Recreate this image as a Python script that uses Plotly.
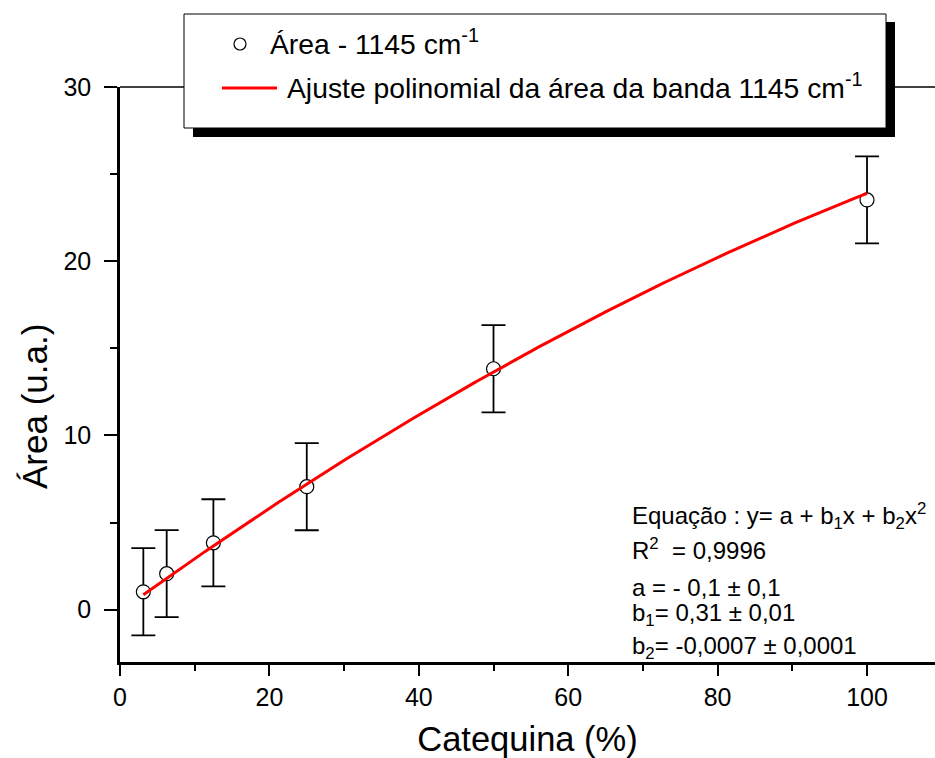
import numpy as np
import plotly.graph_objects as go

# Catechin content (%) and integrated area of the 1145 cm-1 band
catequina = [3.125, 6.25, 12.5, 25, 50, 100]
area = [1.03, 2.07, 3.84, 7.06, 13.83, 23.52]
erro = [2.5, 2.5, 2.5, 2.5, 2.5, 2.5]

# Second-order polynomial fit coefficients: y = a + b1*x + b2*x^2
a, b1, b2 = -0.1, 0.31, -0.0007

x_ticks = [0, 20, 40, 60, 80, 100]
y_ticks = [0, 10, 20, 30]

W, H = 935, 758
ML, MR, MT, MB = 120, 0, 87, 96
PW, PH = W - ML - MR, H - MT - MB
FONT = "Liberation Sans, Arial, sans-serif"


def px(xpix):
    return (xpix - ML) / PW


def py(ypix):
    return (H - MB - ypix) / PH


x_fit = np.linspace(catequina[0], catequina[-1], 300)
y_fit = a + b1 * x_fit + b2 * x_fit ** 2

fig = go.Figure()

fig.add_trace(go.Scatter(
    x=catequina, y=area, mode="markers",
    marker=dict(symbol="circle", size=14, color="white",
                line=dict(color="black", width=1.2)),
    error_y=dict(type="data", array=erro, visible=True,
                 color="black", thickness=1.8, width=12),
    showlegend=False,
))

fig.add_trace(go.Scatter(
    x=x_fit, y=y_fit, mode="lines",
    line=dict(color="#ff0000", width=3),
    showlegend=False,
))

axis_common = dict(
    showgrid=False, zeroline=False, showline=True,
    linecolor="black", linewidth=2.5,
    ticks="outside", tickcolor="black", tickwidth=1.8,
    tickfont=dict(family=FONT, size=25, color="black"),
)

fig.update_xaxes(
    range=[0, 109.1], tickvals=x_ticks, ticklen=11,
    minor=dict(dtick=10, ticklen=6, tickwidth=1.8, tickcolor="black", ticks="outside"),
    title=dict(text="Catequina (%)", font=dict(family=FONT, size=34.5, color="black"), standoff=22),
    ticklabelstandoff=0,
    **axis_common,
)
fig.update_yaxes(
    range=[-3, 30], tickvals=y_ticks, ticklen=13,
    minor=dict(dtick=5, ticklen=7, tickwidth=1.8, tickcolor="black", ticks="outside"),
    ticklabelstandoff=8,
    **axis_common,
)

shapes = [
    # top frame line
    dict(type="line", xref="paper", yref="paper", x0=0, x1=1, y0=1, y1=1,
         line=dict(color="black", width=1.6), layer="above"),
    # legend shadow and box
    dict(type="rect", xref="paper", yref="paper",
         x0=px(193), x1=px(895), y0=py(137), y1=py(22),
         fillcolor="black", line=dict(width=0), layer="above"),
    dict(type="rect", xref="paper", yref="paper",
         x0=px(184), x1=px(886), y0=py(128), y1=py(14),
         fillcolor="white", line=dict(color="black", width=1), layer="above"),
    # legend symbols
    dict(type="circle", xref="paper", yref="paper",
         x0=px(234), x1=px(246), y0=py(50), y1=py(38),
         fillcolor="white", line=dict(color="black", width=1.2), layer="above"),
    dict(type="line", xref="paper", yref="paper",
         x0=px(222), x1=px(277), y0=py(88), y1=py(88),
         line=dict(color="#ff0000", width=3), layer="above"),
]

annotations = [
    dict(text="Área - 1145 cm<sup>-1</sup>", x=px(268), y=py(42),
         xanchor="left", yanchor="middle"),
    dict(text="Ajuste polinomial da área da banda 1145 cm<sup>-1</sup>", x=px(285), y=py(86),
         xanchor="left", yanchor="middle"),
]
for ann in annotations:
    ann.update(xref="paper", yref="paper", showarrow=False,
               font=dict(family=FONT, size=28.3, color="black"))

# y-axis title
annotations.append(dict(
    text="Área (u.a.)", textangle=-90, x=px(34), y=py(407),
    xref="paper", yref="paper", xanchor="center", yanchor="middle",
    showarrow=False, font=dict(family=FONT, size=35, color="black"),
))

eq_lines = [
    ("Equação : y= a + b<sub>1</sub>x + b<sub>2</sub>x<sup>2</sup>", 516),
    ("R<sup>2</sup>  = 0,9996", 549),
    ("a = - 0,1 ± 0,1", 587),
    ("b<sub>1</sub>= 0,31 ± 0,01", 614),
    ("b<sub>2</sub>= -0,0007 ± 0,0001", 647),
]
for txt, ypix in eq_lines:
    annotations.append(dict(
        text=txt, x=px(630), y=py(ypix), xref="paper", yref="paper",
        xanchor="left", yanchor="middle", showarrow=False,
        font=dict(family=FONT, size=24, color="black"),
    ))

fig.update_layout(
    width=W, height=H,
    margin=dict(l=ML, r=MR, t=MT, b=MB),
    paper_bgcolor="white", plot_bgcolor="white",
    shapes=shapes, annotations=annotations,
    showlegend=False,
)

fig.write_html("out.html")
